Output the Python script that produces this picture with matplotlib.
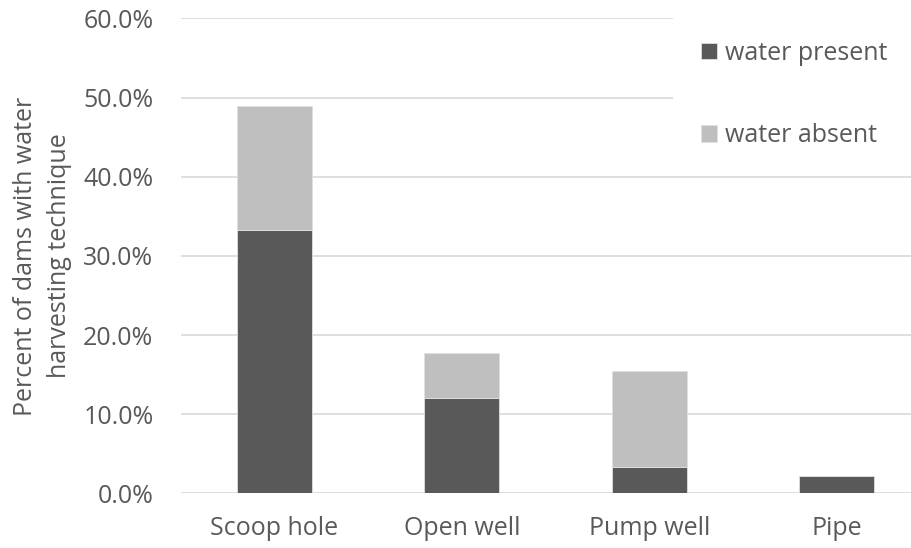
import numpy as np
import matplotlib.pyplot as plt
from matplotlib.ticker import PercentFormatter

plt.rcParams['font.family'] = ['Open Sans', 'DejaVu Sans']

# data
categories = ['Scoop hole', 'Open well', 'Pump well', 'Pipe']
water_present = [33.3, 12.1, 3.4, 2.2]
water_absent = [15.6, 5.7, 12.1, 0.0]

dark = '#595959'
light = '#bfbfbf'
txt = '#595959'
fs = 18

fig = plt.figure(figsize=(9.12, 5.48), dpi=100)
ax = fig.add_axes([0.198, 0.0995, 0.812, 0.867])

x = np.arange(len(categories))
ax.bar(x, water_present, width=0.4, color=dark, edgecolor='#e0e0e0',
       linewidth=0.6, label='water present', zorder=3)
ax.bar(x, water_absent, width=0.4, bottom=water_present, color=light,
       edgecolor='#e0e0e0', linewidth=0.6, label='water absent', zorder=3)

ax.set_xlim(-0.5, 3.45)
ax.set_ylim(0, 60)
ax.set_yticks(np.arange(0, 61, 10))
ax.yaxis.set_major_formatter(PercentFormatter(decimals=1))
ax.set_xticks(x)
ax.set_xticklabels(categories)
ax.grid(axis='y', color='#d9d9d9', linewidth=1.2, zorder=0)
ax.tick_params(length=0, labelsize=fs, colors=txt)
ax.tick_params(axis='y', pad=19.5)
ax.tick_params(axis='x', pad=16)
for s in ax.spines.values():
    s.set_visible(False)

ax.set_ylabel('Percent of dams with water\nharvesting technique',
              fontsize=fs, color=txt, labelpad=8, linespacing=1.5)

leg = ax.legend(loc='upper left', bbox_to_anchor=(0.665, 1.011), frameon=True,
                facecolor='white', edgecolor='white', framealpha=1,
                fontsize=fs, labelspacing=2.3, handlelength=0.64,
                handleheight=0.64, handletextpad=0.32, borderpad=1.1,
                borderaxespad=0, labelcolor=txt)
leg.get_frame().set_linewidth(0)

plt.savefig('out.png', dpi=100)
